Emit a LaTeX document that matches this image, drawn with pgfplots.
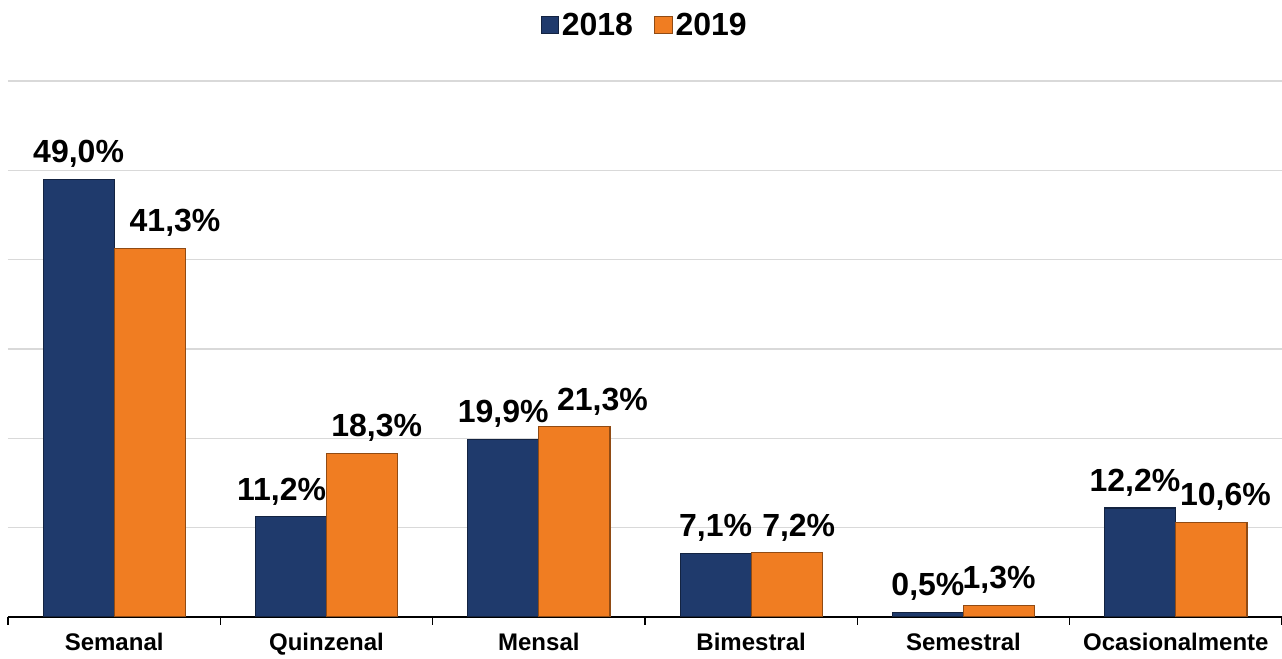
\documentclass[border=0pt]{standalone}
\usepackage{pgfplots}
\pgfplotsset{compat=1.18}
\usepackage{pgfplotstable}
\usepackage{fontspec}
\setmainfont{Liberation Sans}
\definecolor{navy}{HTML}{1F3A6C}
\definecolor{orng}{HTML}{F07D22}
\pgfplotstableread{
x y dx
0 49.0 0
1 11.2 -7
2 19.9 0
3 7.1 0
4 0.5 0
5 12.2 -4
}\dataA
\pgfplotstableread{
x y dx
0 41.3 19
1 18.3 11
2 21.3 21
3 7.2 9
4 1.3 0
5 10.6 10.5
}\dataB
\begin{document}
\begin{tikzpicture}
\useasboundingbox (-6pt,-31.5pt) rectangle (955.5pt,462.75pt);
\begin{axis}[
  at={(0,0)}, anchor=south west,
  scale only axis, width=955.5pt, height=402pt,
  ybar=0pt, bar width=0.335,
  xmin=-0.5, xmax=5.5, ymin=0, ymax=60,
  xtick={0,1,2,3,4,5},
  xticklabels={Semanal,Quinzenal,Mensal,Bimestral,Semestral,Ocasionalmente},
  minor xtick={-0.5,0.5,1.5,2.5,3.5,4.5,5.5},
  major x tick style={draw=none},
  minor tick length=6pt, tick align=outside,
  ytick={0,10,...,60}, yticklabels={},
  ytick style={draw=none},
  ymajorgrids, grid style={draw=black!15, line width=0.8pt},
  axis x line*=bottom, axis y line*=left,
  y axis line style={draw=none},
  x axis line style={black, line width=0.9pt},
  minor x tick style={black, line width=0.9pt},
  xticklabel style={font=\fontsize{18}{20}\selectfont\bfseries, yshift=-4pt},
  /pgf/number format/assume math mode=true,
  visualization depends on={\thisrow{dx} \as \dx},
  nodes near coords={\pgfmathprintnumber[fixed,fixed zerofill,precision=1,use comma,assume math mode=true]{\pgfplotspointmeta}\%},
  every node near coord/.append style={font=\fontsize{24}{28}\selectfont\bfseries, black, yshift=5pt, xshift=\dx pt},
  legend columns=2,
  legend style={draw=none, fill=none, font=\fontsize{24}{28}\selectfont\bfseries,
    at={(axis description cs:0.5,1)}, anchor=center, yshift=42pt,
    /tikz/every even column/.append style={column sep=14pt}},
  legend image code/.code={\draw[#1] (0cm,-0.23cm) rectangle (0.46cm,0.23cm);},
]
\addplot[fill=navy, draw=navy!60!black, line width=0.8pt] table[x=x,y=y] {\dataA};
\addplot[fill=orng, draw=orng!60!black, line width=0.8pt] table[x=x,y=y] {\dataB};
\legend{2018,2019}
\end{axis}
\end{tikzpicture}
\end{document}
